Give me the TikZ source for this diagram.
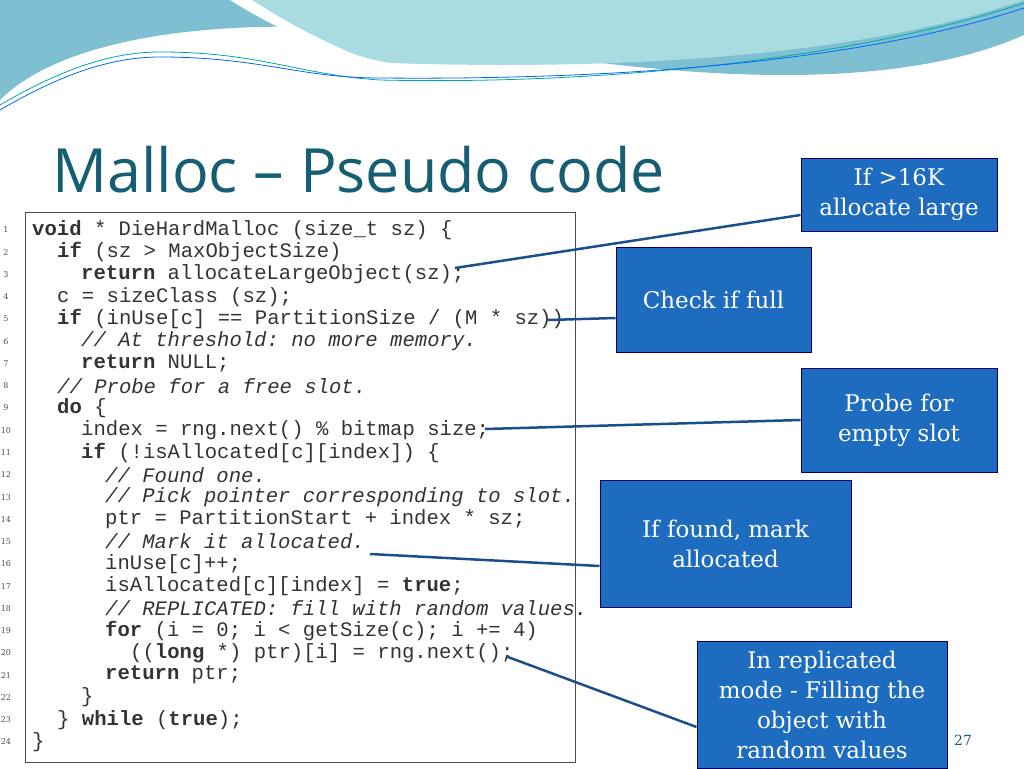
\documentclass[tikz,border=0pt]{standalone}
\usepackage{fontspec}
\setmainfont{DejaVu Serif}
\setmonofont{Liberation Mono}
\newfontfamily\titlefont{Open Sans}
\begin{document}
\begin{tikzpicture}[x=1pt,y=-1pt,
  note/.style={draw=blue!40!black,line width=1pt,fill=codebl,text=white,align=center,font=\fontsize{23}{30}\selectfont,inner sep=0pt},
  link/.style={draw=linkc,line width=2.5pt},
  ln/.style={anchor=west,font=\fontsize{20.6}{22}\ttfamily,text=black!80,inner sep=0pt},
  num/.style={font=\fontsize{8}{8}\selectfont,text=black!70,inner sep=0pt}]
\definecolor{codebl}{HTML}{1E6CC0}
\definecolor{linkc}{HTML}{1B4F8C}
\definecolor{wavea}{HTML}{7FBFD2}
\definecolor{waveb}{HTML}{A8DCE0}
\definecolor{titlec}{HTML}{165E72}
\useasboundingbox (0,0) rectangle (1024,768);
% background waves
\fill[wavea] (0,0) -- (1024,0) -- (1024,35) .. controls (900,90) and (700,85) .. (450,40) .. controls (300,15) and (80,20) .. (0,100) -- cycle;
\fill[waveb] (250,0) .. controls (300,30) and (340,55) .. (390,63) .. controls (600,70) and (850,60) .. (1024,0) -- cycle;
\fill[white] (230,0) .. controls (270,25) and (320,50) .. (375,63) .. controls (330,45) and (290,25) .. (252,0) -- cycle;
\draw[teal!70!cyan,line width=0.8pt] (0,105) .. controls (60,70) and (110,52) .. (160,52) .. controls (260,52) and (300,75) .. (380,80) .. controls (600,85) and (850,60) .. (1024,3);
\draw[blue!60!cyan,line width=0.8pt] (0,110) .. controls (60,75) and (110,57) .. (160,57) .. controls (260,57) and (300,78) .. (380,78) .. controls (600,80) and (850,65) .. (1024,8);
% title
\node[anchor=base west,inner sep=0pt,font=\titlefont\fontsize{61}{61}\selectfont,text=titlec] (title) at (52,192) {Malloc – Pseudo code};
% code box
\node[draw=black!70,line width=1pt,minimum width=550pt,minimum height=550pt,anchor=north west,inner sep=0pt] (box) at (25,212) {};
\foreach \i in {1,...,24} {\node[num] (n\i) at (6,{230+(\i-1)*22.26}) {\i};}
\def\Y#1{{230+(#1-1)*22.26}}
\node[ln] (c1) at (32,\Y{1}) {\textbf{void} * DieHardMalloc (size\_t sz) \{};
\node[ln] (c2) at (57,\Y{2}) {\textbf{if} (sz > MaxObjectSize)};
\node[ln] (c3) at (81,\Y{3}) {\textbf{return} allocateLargeObject(sz);};
\node[ln] (c4) at (57,\Y{4}) {c = sizeClass (sz);};
\node[ln] (c5) at (57,\Y{5}) {\textbf{if} (inUse[c] == PartitionSize / (M * sz))};
\node[ln] (c6) at (81,\Y{6}) {\textit{// At threshold: no more memory.}};
\node[ln] (c7) at (81,\Y{7}) {\textbf{return} NULL;};
\node[ln] (c8) at (57,\Y{8}) {\textit{// Probe for a free slot.}};
\node[ln] (c9) at (57,\Y{9}) {\textbf{do} \{};
\node[ln] (c10) at (81,\Y{10}) {index = rng.next() \% bitmap size;};
\node[ln] (c11) at (81,\Y{11}) {\textbf{if} (!isAllocated[c][index]) \{};
\node[ln] (c12) at (105,\Y{12}) {\textit{// Found one.}};
\node[ln] (c13) at (105,\Y{13}) {\textit{// Pick pointer corresponding to slot.}};
\node[ln] (c14) at (105,\Y{14}) {ptr = PartitionStart + index * sz;};
\node[ln] (c15) at (105,\Y{15}) {\textit{// Mark it allocated.}};
\node[ln] (c16) at (105,\Y{16}) {inUse[c]++;};
\node[ln] (c17) at (105,\Y{17}) {isAllocated[c][index] = \textbf{true};};
\node[ln] (c18) at (105,\Y{18}) {\textit{// REPLICATED: fill with random values.}};
\node[ln] (c19) at (105,\Y{19}) {\textbf{for} (i = 0; i < getSize(c); i += 4)};
\node[ln] (c20) at (130,\Y{20}) {((\textbf{long} *) ptr)[i] = rng.next();};
\node[ln] (c21) at (105,\Y{21}) {\textbf{return} ptr;};
\node[ln] (c22) at (81,\Y{22}) {\}};
\node[ln] (c23) at (57,\Y{23}) {\} \textbf{while} (\textbf{true});};
\node[ln] (c24) at (32,\Y{24}) {\}};
% notes
\node[note,minimum width=196pt,minimum height=73pt] (b1) at (899,194.5) {If >16K\\allocate large};
\node[note,minimum width=195pt,minimum height=105pt] (b2) at (713.5,299.5) {Check if full};
\node[note,minimum width=196pt,minimum height=104pt] (b3) at (899,420) {Probe for\\empty slot};
\node[note,minimum width=251pt,minimum height=127pt] (b4) at (725.5,543.5) {If found, mark\\allocated};
\node[note,minimum width=250pt,minimum height=127pt,anchor=north] (b5) at (822,641) {In replicated\\mode - Filling the\\object with\\random values};
\node[font=\fontsize{14}{14}\selectfont,text=linkc] (pg) at (963,740) {27};
% connectors
\coordinate (p1) at (455,268);
\coordinate (p2) at (548,320);
\coordinate (p3) at (485,429);
\coordinate (p4) at (370,554);
\coordinate (p5) at (508,657);
\draw[link] (p1) -- (b1.west|-0,215);
\draw[link] (p2) -- (b2.west|-0,318);
\draw[link] (p3) -- (b3.west);
\draw[link] (p4) -- (b4.west|-0,566);
\draw[link] (p5) -- (b5.west|-0,727);
\end{tikzpicture}
\end{document}
